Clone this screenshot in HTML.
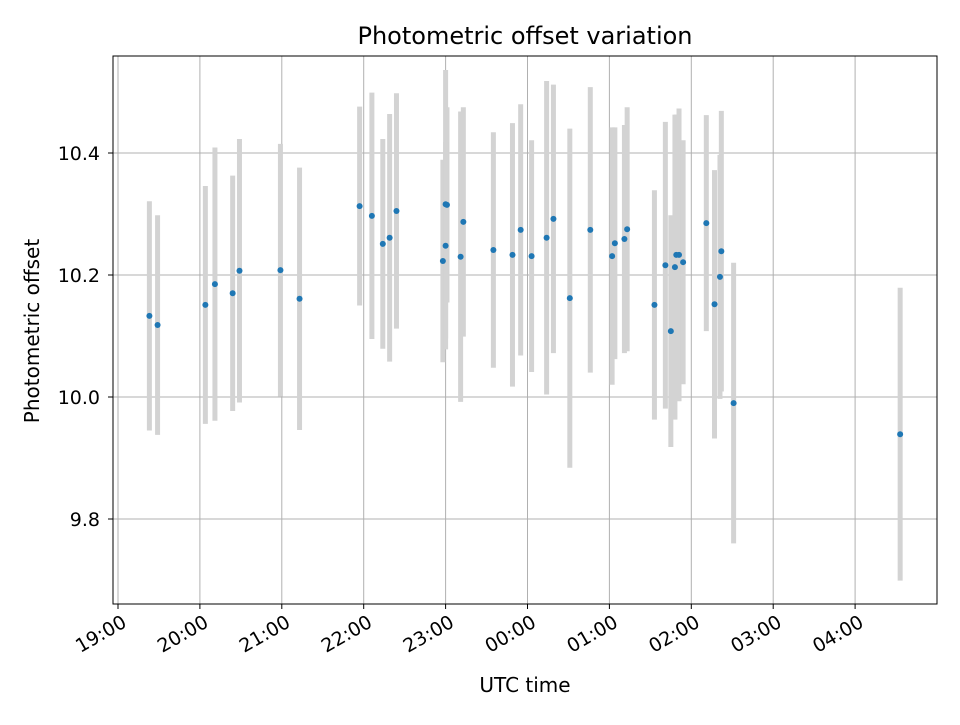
<!DOCTYPE html>
<html><head><meta charset="utf-8"><style>
body{margin:0;background:#fff;font-family:"Liberation Sans","DejaVu Sans",sans-serif}
svg text{font-family:"DejaVu Sans","Liberation Sans",sans-serif}
</style></head><body>
<svg id="chart" width="960" height="720" xmlns="http://www.w3.org/2000/svg">
<rect width="960" height="720" fill="#fff"/>
<g id="grid"></g><g id="errs"></g><g id="pts"></g><g id="axes"></g>
<text x="525" y="44" font-size="24" text-anchor="middle">Photometric offset variation</text>
<text x="525" y="692" font-size="20" text-anchor="middle">UTC time</text>
<text transform="translate(39,331) rotate(-90)" font-size="20" text-anchor="middle">Photometric offset</text>
</svg>
<script>
const times=["19:23","19:29","20:04","20:11","20:24","20:29","20:59","21:13","21:57","22:06","22:14","22:19","22:24","22:58","23:00","23:01","23:00","23:11","23:13","23:35","23:49","23:55","00:03","00:14","00:19","00:31","00:46","01:02","01:04","01:11","01:13","01:33","01:41","01:45","01:48","01:49","01:51","01:54","02:11","02:17","02:22","02:21","02:31","04:33"];
const offsets=[10.133,10.118,10.151,10.185,10.170,10.207,10.208,10.161,10.313,10.297,10.251,10.261,10.305,10.223,10.316,10.315,10.248,10.230,10.287,10.241,10.233,10.274,10.231,10.261,10.292,10.162,10.274,10.231,10.252,10.259,10.275,10.151,10.216,10.108,10.213,10.233,10.233,10.221,10.285,10.152,10.239,10.197,9.990,9.939];
const errors=[0.188,0.180,0.195,0.224,0.193,0.216,0.207,0.215,0.163,0.202,0.172,0.203,0.193,0.166,0.22,0.16,0.17,0.238,0.188,0.193,0.216,0.206,0.19,0.257,0.22,0.278,0.234,0.211,0.19,0.187,0.2,0.188,0.235,0.19,0.25,0.23,0.24,0.2,0.177,0.22,0.23,0.2,0.23,0.24];
const xTicks=["19:00","20:00","21:00","22:00","23:00","00:00","01:00","02:00","03:00","04:00"];
const yTicks=[9.8,10.0,10.2,10.4];
const L=113,R=937,T=56,B=604;
function hrs(s){let [h,m]=s.split(":").map(Number);if(h<12)h+=24;return h+m/60;}
const X=h=>118+(h-19)*81.9;
const Y=v=>153+(10.4-v)*610;
const NS="http://www.w3.org/2000/svg";
function mk(tag,attrs,parent){const e=document.createElementNS(NS,tag);for(const k in attrs)e.setAttribute(k,attrs[k]);document.getElementById(parent).appendChild(e);return e;}
xTicks.forEach(t=>{const x=X(hrs(t));
 const g=mk("line",{x1:x,x2:x,y1:T,y2:B,stroke:"#b0b0b0","stroke-width":1},"grid");
 
 
 const tk=mk("line",{x1:x,x2:x,y1:B,y2:B+5,stroke:"#000"},"axes");
 
 
 const tx=mk("text",{transform:`translate(${x+3},${B+10}) rotate(-30)`,"font-size":19,"text-anchor":"end","dominant-baseline":"hanging"},"axes");
 tx.textContent=t;
 
 
});
yTicks.forEach(v=>{const y=Y(v);
 const g=mk("line",{x1:L,x2:R,y1:y,y2:y,stroke:"#b0b0b0","stroke-width":1},"grid");
 
 
 const tk=mk("line",{x1:L-5,x2:L,y1:y,y2:y,stroke:"#000"},"axes");
 
 
 const tx=mk("text",{x:L-13,y:y+7,"font-size":19,"text-anchor":"end"},"axes");
 tx.textContent=v.toFixed(1);
 
 
});
const fr=mk("rect",{x:L,y:T,width:R-L,height:B-T,fill:"none",stroke:"#000","stroke-width":1},"axes");


times.forEach((t,i)=>{const x=X(hrs(t));
 const e=mk("line",{x1:x,x2:x,y1:Y(offsets[i]+errors[i]),y2:Y(offsets[i]-errors[i]),stroke:"#d3d3d3","stroke-width":5},"errs");
 
 
});
times.forEach((t,i)=>{
 const p=mk("circle",{cx:X(hrs(t)),cy:Y(offsets[i]),r:3,fill:"#1f77b4"},"pts");
 
 
});
</script>
</body></html>
